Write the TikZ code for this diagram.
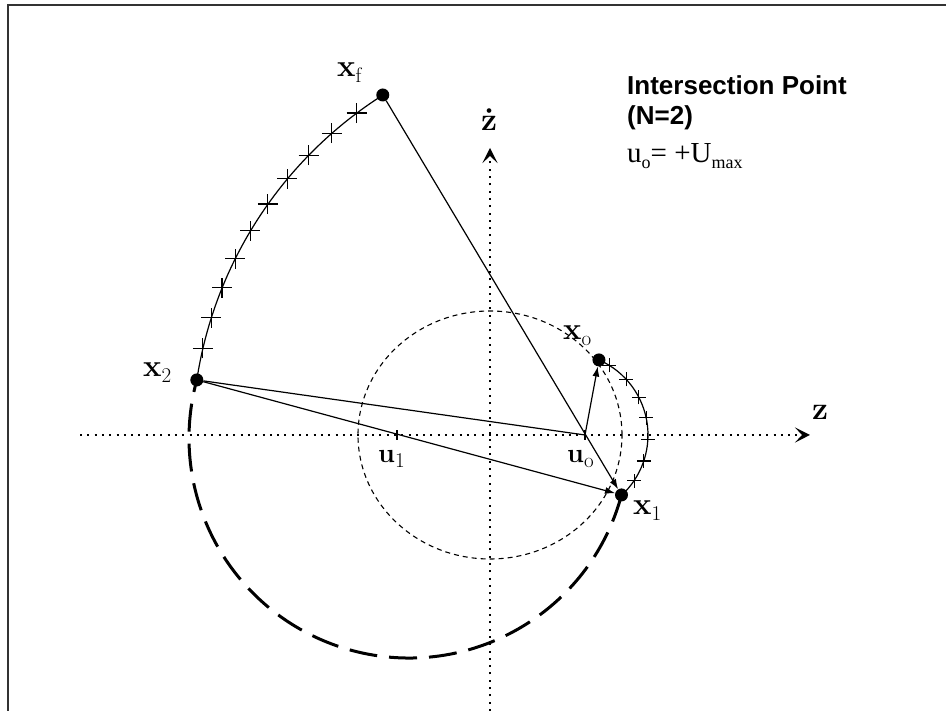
\documentclass[tikz,border=0pt]{standalone}
\usepackage{fontspec}
\newfontfamily\boxsans{Liberation Sans}
\newfontfamily\boxserif{Liberation Serif}
\usetikzlibrary{arrows.meta}
\newcommand{\lowsub}[1]{\raisebox{-0.45ex}{\fontsize{18}{18}\selectfont #1}}
\newcommand{\labsub}[1]{\raisebox{-0.4ex}{\fontsize{21}{21}\selectfont\mdseries #1}}

\begin{document}
\begin{tikzpicture}[
        x=1pt, y=1pt,
        axis/.style={line width=2pt, dash pattern=on 2pt off 5.3pt,
                     -{Stealth[length=15pt, width=15pt, inset=7pt]}},
        link/.style={line width=1.2pt},
        vec/.style={line width=1.2pt, -{Latex[length=10pt, width=7pt]}},
        longdash/.style={line width=3pt, dash pattern=on 28pt off 12pt},
        shortdash/.style={line width=1.1pt, dash pattern=on 5pt off 4pt},
        ptdot/.style={circle, fill=black, inner sep=0pt, minimum size=13pt},
        lbl/.style={anchor=base west, inner sep=0pt, font=\bfseries\fontsize{31}{31}\selectfont},
        ulbl/.style={anchor=base west, inner sep=0pt, font=\bfseries\fontsize{27}{27}\selectfont},
        zlbl/.style={anchor=base west, inner sep=0pt, font=\bfseries\fontsize{32}{32}\selectfont}
      ]
        \useasboundingbox (0,0) rectangle (946,711);
        \draw[line width=1.5pt, black!80] (8,0) -- (8,706) -- (946,706);

        \coordinate (O) at (490,276);
        \coordinate (u1) at (397,276);
        \coordinate (uo) at (585,276);
        \coordinate (cbig) at (409,273);
        \coordinate (cfar) at (603,269);
        \coordinate (csml) at (566,276);
        \path (cbig) ++(-15:220) coordinate (p1);
        \path (cbig) ++(164.7:220) coordinate (p2);
        \path (cfar) ++(122.4:411) coordinate (pf);
        \path (csml) ++(66.3:82) coordinate (po);

        \coordinate (zL) at (80,276);
        \coordinate (zR) at (810,276);
        \coordinate (zdB) at (490,0);
        \coordinate (zdT) at (490,563);
        \draw[axis] (zL) -- (zR);
        \draw[axis] (zdB) -- (zdT);
        \node[zlbl] (zname) at (812,291) {z};
        \node[zlbl] (zdname) at (481,580) {\.{z}};

        \draw[shortdash] (O) ellipse[x radius=132, y radius=124];

        \draw[longdash] (p1) arc[start angle=-15, end angle=-195.3, radius=220];
        \draw[link] (p2) arc[start angle=171.3, end angle=122.4, radius=411];
        \draw[link] (po) arc[start angle=66.3, end angle=-47, radius=82];

        \foreach \k in {1,...,10}
          \draw[link, shift={(cfar)}] ({122.4+4.445*\k}:411)
            ++(-10,0) -- ++(20,0) ++(-10,-10) -- ++(0,20);
        \foreach \k in {0,...,6}
          \draw[link, shift={(csml)}] ({58-15.3*\k}:82)
            ++(-7,0) -- ++(14,0) ++(-7,-7) -- ++(0,14);

        \draw[link] (u1) ++(0,-5) -- ++(0,10);
        \draw[link] (uo) ++(0,-5) -- ++(0,10);

        \node[ptdot] (xf) at (pf) {};
        \node[ptdot] (x2) at (p2) {};
        \node[ptdot] (xo) at (po) {};
        \node[ptdot] (x1) at (p1) {};

        \draw[vec] (xf) -- (x1);
        \draw[vec] (x2) -- (x1);
        \draw[link] (x2) -- (uo);
        \draw[vec] (uo) -- (xo);

        \node[lbl] (xfname) at (337,634) {x\labsub{f}};
        \node[lbl] (x2name) at (143,334) {x\labsub{2}};
        \node[lbl] (xoname) at (563,371) {x\labsub{o}};
        \node[lbl] (x1name) at (633,196) {x\labsub{1}};
        \node[ulbl] (u1name) at (378,248) {u\labsub{1}};
        \node[ulbl] (uoname) at (567,248) {u\labsub{o}};

        \node[anchor=base west, inner sep=0pt,
              font=\boxsans\bfseries\fontsize{26}{26}\selectfont]
          (title) at (627,616) {Intersection Point};
        \node[anchor=base west, inner sep=0pt,
              font=\boxsans\bfseries\fontsize{26}{26}\selectfont]
          (nval) at (627,586) {(N=2)};
        \node[anchor=base west, inner sep=0pt,
              font=\boxserif\fontsize{29}{29}\selectfont]
          (ctrl) at (627,548) {u\lowsub{o}= +U\lowsub{max}};
      \end{tikzpicture}
\end{document}
